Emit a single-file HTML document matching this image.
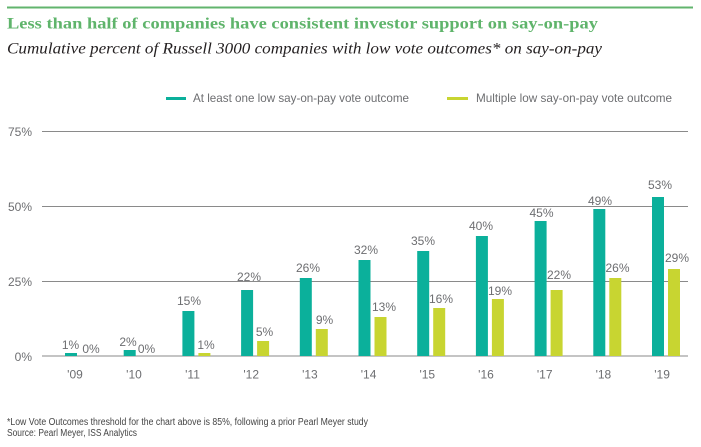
<!DOCTYPE html>
<html>
<head>
<meta charset="utf-8">
<style>
  html,body{margin:0;padding:0;background:#fff;}
  svg{display:block;}
</style>
</head>
<body>
<svg width="701" height="447" viewBox="0 0 701 447" xmlns="http://www.w3.org/2000/svg">
  <rect width="701" height="447" fill="#fff"/>
  <!-- top green rule -->
  <rect x="7" y="6.5" width="686" height="2" fill="#62b46d"/>
  <!-- title -->
  <text x="7" y="28.5" font-family="Liberation Serif, serif" font-weight="bold" font-size="16" fill="#5fb46b" textLength="591" lengthAdjust="spacingAndGlyphs">Less than half of companies have consistent investor support on say-on-pay</text>
  <text x="7" y="53.5" font-family="Liberation Serif, serif" font-style="italic" font-size="16" fill="#231f20" textLength="595" lengthAdjust="spacingAndGlyphs">Cumulative percent of Russell 3000 companies with low vote outcomes* on say-on-pay</text>

  <!-- legend -->
  <rect x="166" y="97" width="20" height="3" fill="#0bb09b"/>
  <text x="193" y="102" font-family="Liberation Sans, sans-serif" font-size="12" fill="#6d6e71" textLength="216" lengthAdjust="spacingAndGlyphs">At least one low say-on-pay vote outcome</text>
  <rect x="447" y="97" width="21" height="3" fill="#c8d531"/>
  <text x="476" y="102" font-family="Liberation Sans, sans-serif" font-size="12" fill="#6d6e71" textLength="196" lengthAdjust="spacingAndGlyphs">Multiple low say-on-pay vote outcome</text>

  <!-- gridlines -->
  <g stroke="#8a8a8a" stroke-width="1">
    <line x1="42" y1="131.5" x2="688" y2="131.5"/>
    <line x1="42" y1="206.5" x2="688" y2="206.5"/>
    <line x1="42" y1="281.5" x2="688" y2="281.5"/>
    <line x1="42" y1="356" x2="688" y2="356"/>
  </g>

  <!-- y tick labels -->
  <g font-family="Liberation Sans, sans-serif" font-size="12" fill="#6d6e71" text-anchor="end">
    <text x="32" y="136">75%</text>
    <text x="32" y="211">50%</text>
    <text x="32" y="286">25%</text>
    <text x="32" y="361">0%</text>
  </g>

  <!-- teal bars -->
  <g fill="#0bb09b">
    <rect x="65" y="353" width="12" height="3"/>
    <rect x="123.7" y="350" width="12" height="6"/>
    <rect x="182.4" y="311" width="12" height="45"/>
    <rect x="241.1" y="290" width="12" height="66"/>
    <rect x="299.8" y="278" width="12" height="78"/>
    <rect x="358.5" y="260" width="12" height="96"/>
    <rect x="417.2" y="251" width="12" height="105"/>
    <rect x="475.9" y="236" width="12" height="120"/>
    <rect x="534.6" y="221" width="12" height="135"/>
    <rect x="593.3" y="209" width="12" height="147"/>
    <rect x="652" y="197" width="12" height="159"/>
  </g>
  <!-- lime bars -->
  <g fill="#c8d531">
    <rect x="198.4" y="353" width="12" height="3"/>
    <rect x="257.1" y="341" width="12" height="15"/>
    <rect x="315.8" y="329" width="12" height="27"/>
    <rect x="374.5" y="317" width="12" height="39"/>
    <rect x="433.2" y="308" width="12" height="48"/>
    <rect x="491.9" y="299" width="12" height="57"/>
    <rect x="550.6" y="290" width="12" height="66"/>
    <rect x="609.3" y="278" width="12" height="78"/>
    <rect x="668" y="269" width="12" height="87"/>
  </g>

  <!-- value labels -->
  <g font-family="Liberation Sans, sans-serif" font-size="12" fill="#6d6e71" text-anchor="middle">
    <text x="70.5" y="349">1%</text>
    <text x="91" y="353">0%</text>
    <text x="128" y="346">2%</text>
    <text x="146.5" y="353">0%</text>
    <text x="189" y="305">15%</text>
    <text x="206" y="349">1%</text>
    <text x="249" y="281">22%</text>
    <text x="264.5" y="336">5%</text>
    <text x="308" y="272">26%</text>
    <text x="324.5" y="324">9%</text>
    <text x="366" y="254">32%</text>
    <text x="384" y="311">13%</text>
    <text x="423" y="245">35%</text>
    <text x="441" y="303">16%</text>
    <text x="481" y="230">40%</text>
    <text x="500" y="295">19%</text>
    <text x="541.5" y="217">45%</text>
    <text x="559" y="279">22%</text>
    <text x="600" y="205">49%</text>
    <text x="617.5" y="272">26%</text>
    <text x="660" y="189">53%</text>
    <text x="677" y="262">29%</text>
  </g>

  <!-- x labels -->
  <g font-family="Liberation Sans, sans-serif" font-size="12" fill="#6d6e71" text-anchor="middle">
    <text x="75" y="378.5">'09</text>
    <text x="134" y="378.5">'10</text>
    <text x="192.5" y="378.5">'11</text>
    <text x="251.2" y="378.5">'12</text>
    <text x="309.9" y="378.5">'13</text>
    <text x="368.6" y="378.5">'14</text>
    <text x="427.3" y="378.5">'15</text>
    <text x="486" y="378.5">'16</text>
    <text x="544.7" y="378.5">'17</text>
    <text x="603.4" y="378.5">'18</text>
    <text x="662.1" y="378.5">'19</text>
  </g>

  <!-- footer -->
  <text x="7" y="425" font-family="Liberation Sans, sans-serif" font-size="10" fill="#444" textLength="361" lengthAdjust="spacingAndGlyphs">*Low Vote Outcomes threshold for the chart above is 85%, following a prior Pearl Meyer study</text>
  <text x="7" y="436" font-family="Liberation Sans, sans-serif" font-size="10" fill="#444" textLength="130" lengthAdjust="spacingAndGlyphs">Source: Pearl Meyer, ISS Analytics</text>
</svg>
</body>
</html>
